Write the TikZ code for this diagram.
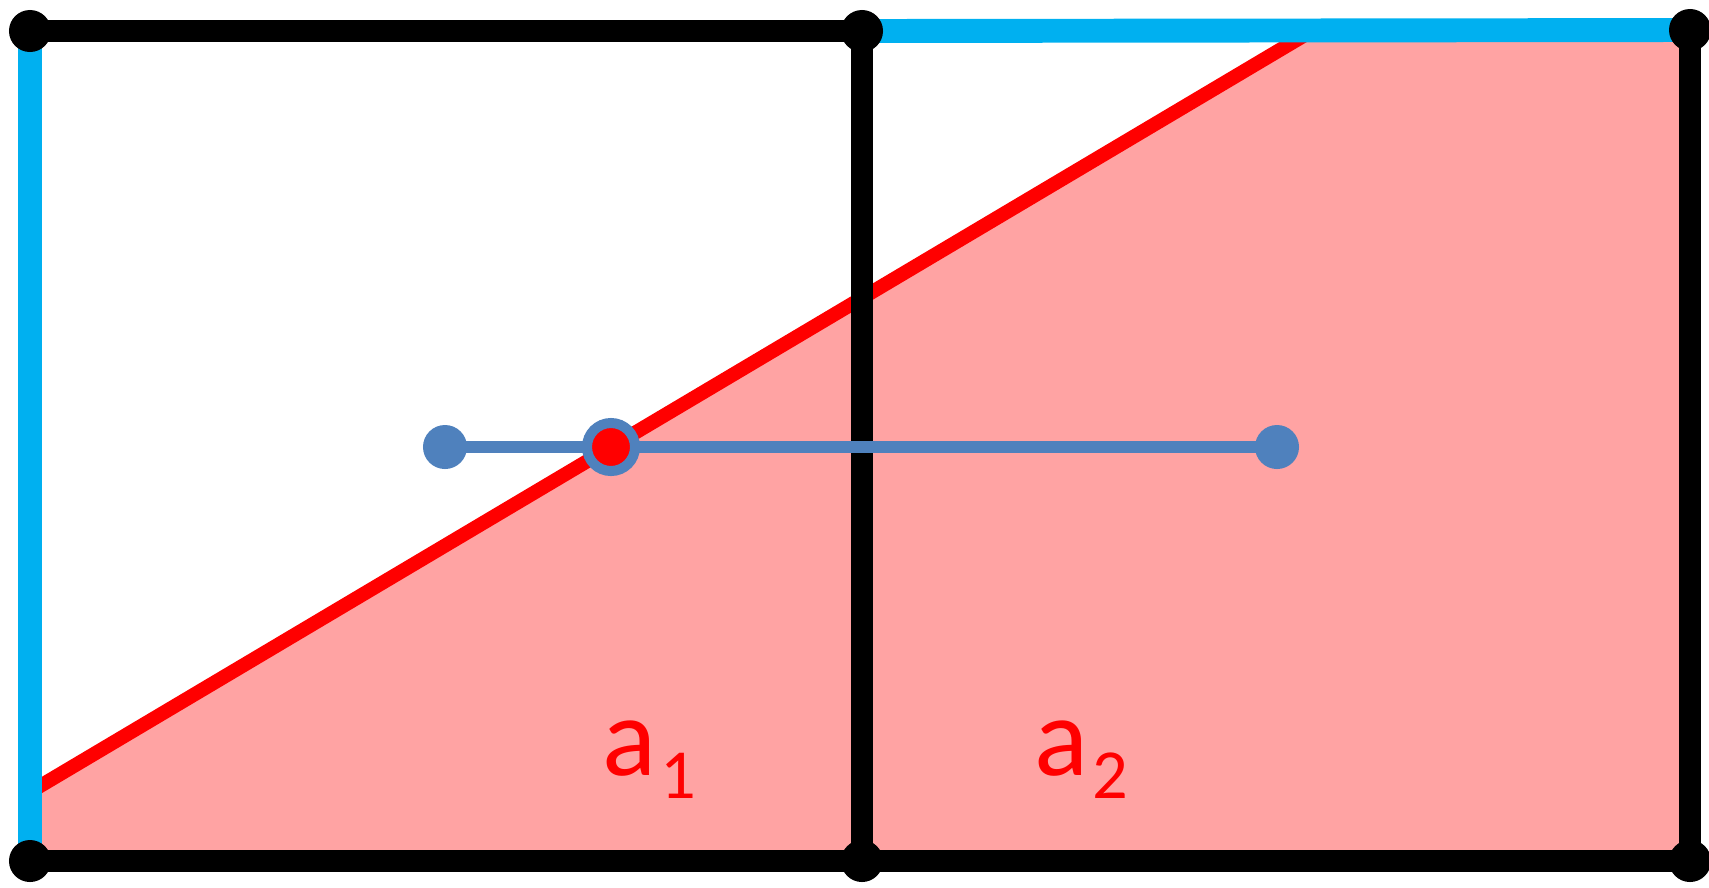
\documentclass[tikz,border=0pt]{standalone}
\usepackage{fontspec}
\newfontfamily\labelfont{Carlito}
\usetikzlibrary{positioning}
\definecolor{frameblue}{HTML}{00B0F0}
\definecolor{dotblue}{HTML}{4F81BD}
\definecolor{areapink}{HTML}{FFA3A3}
\pgfdeclarelayer{back}
\pgfdeclarelayer{mid}
\pgfsetlayers{back,mid,main}
\tikzset{
  vertex/.style={shape=circle,fill=black,inner sep=0pt,minimum size=4.2mm},
  probe/.style={shape=circle,fill=dotblue,inner sep=0pt,minimum size=4.4mm},
  hit/.style={shape=circle,draw=dotblue,fill=red,line width=2.85pt,inner sep=0pt,minimum size=4.8mm},
  edgeline/.style={line width=6pt,black},
  bdline/.style={line width=6.8pt,frameblue},
  lbl/.style={text=red,inner sep=0pt,font=\labelfont\fontsize{32}{38}\selectfont}
}
\begin{document}
\begin{tikzpicture}[x=0.01cm,y=-0.01cm]
\useasboundingbox (0,0) rectangle (1709,887);

\node[vertex] (TL) at (30,31) {};
\node[vertex] (TM) at (862,31) {};
\node[vertex] (TR) at (1690,30) {};
\node[vertex] (BL) at (30,861) {};
\node[vertex] (BM) at (862,861) {};
\node[vertex] (BR) at (1690,861) {};
\node[probe] (P1) at (445,447) {};
\node[probe] (P2) at (1277,447) {};
\node[hit] (X) at (611,447) {};
\coordinate (R1) at (30,792);
\coordinate (R2) at (1315,29);

\begin{pgfonlayer}{back}
\fill[areapink] (R1) -- (R2) -- (1690,29) -- (1690,861) -- (30,861) -- cycle;
\draw[red,line width=4pt] (R1) -- (R2);
\end{pgfonlayer}

\begin{pgfonlayer}{mid}
\draw[bdline] (TL.center) -- (BL.center);
\draw[bdline] (TM.center) -- (TR.center);
\draw[edgeline] (TL.center) -- (TM.center);
\draw[edgeline] (TM.center) -- (BM.center);
\draw[edgeline] (TR.center) -- (BR.center);
\draw[edgeline] (BL.center) -- (BM.center) -- (BR.center);
\draw[dotblue,line width=3.4pt] (P1.center) -- (X.center) -- (P2.center);
\end{pgfonlayer}

\node[lbl,anchor=base west] (a1) at (602,775) {a\kern1pt\raisebox{-6.8pt}{\fontsize{20}{24}\selectfont 1}};
\node[lbl,anchor=base west] (a2) at (1034,775) {a\kern1pt\raisebox{-6.8pt}{\fontsize{20}{24}\selectfont 2}};
\end{tikzpicture}
\end{document}
